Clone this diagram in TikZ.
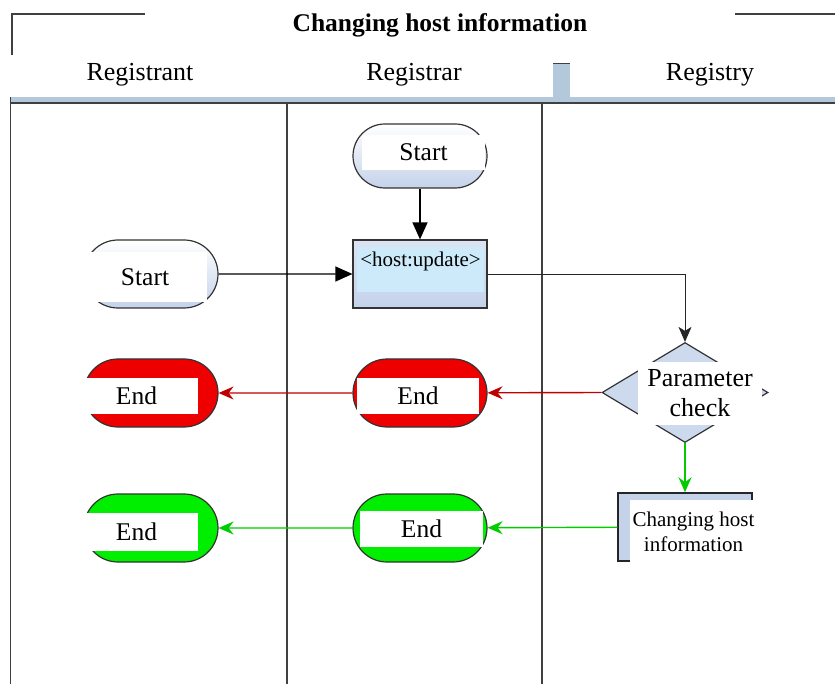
\documentclass[tikz,border=0pt]{standalone}
\usepackage{fontspec}
\setmainfont{Liberation Serif}
\usetikzlibrary{shapes.misc,shapes.geometric,arrows.meta,positioning}

\definecolor{endred}{HTML}{EE0000}
\definecolor{endgreen}{HTML}{00EE00}
\definecolor{paleblue}{HTML}{C4D2EA}
\definecolor{hostcyan}{HTML}{CCEAFA}
\definecolor{bandblue}{HTML}{B4C8DC}
\definecolor{frame}{HTML}{404040}

\tikzset{
  stadium/.style={rounded rectangle, draw=black!80, line width=1.2pt,
    minimum width=134pt, minimum height=68pt, inner sep=0pt},
  startshape/.style={stadium, top color=white, bottom color=paleblue},
  redend/.style={stadium, fill=endred},
  greenend/.style={stadium, fill=endgreen},
  lblbox/.style={fill=white, inner sep=0pt, align=center,
    font=\fontsize{25.5}{30}\selectfont},
  smallbox/.style={lblbox, font=\fontsize{21}{25}\selectfont},
  lane/.style={frame, line width=1.3pt},
  flow/.style={line width=1.3pt, -{Triangle[length=17pt,width=15pt]}},
  redflow/.style={endred!80!black, line width=1.4pt,
    -{Stealth[length=15pt,width=13pt,inset=5pt]}},
  greenflow/.style={green!80!black, line width=1.4pt,
    -{Stealth[length=15pt,width=13pt,inset=5pt]}},
}

\begin{document}
\begin{tikzpicture}[x=1pt, y=-1pt]
    \useasboundingbox (0,0) rectangle (835,684);

    % First draw the frame and the lanes
    \draw[lane] (12,55) -- (12,14) -- (145,14);
    \draw[lane] (735,14) -- (835,14);
    \node[font=\bfseries\fontsize{25.5}{30}\selectfont] (title) at (440,25) {Changing host information};

    \fill[bandblue] (10,97.5) rectangle (835,102.5);
    \fill[bandblue] (553,63) rectangle (570,98);
    \draw[frame, line width=1.5pt] (553,63.5) -- (570,63.5);
    \draw[lane] (10,103) -- (835,103);
    \draw[lane] (10.5,97) -- (10.5,684);
    \draw[lane] (287,102) -- (287,684);
    \draw[lane] (542,102) -- (542,684);

    \foreach \name/\x/\txt in {registrant/140/Registrant, registrar/414/Registrar, registry/710/Registry}
      \node[font=\fontsize{26}{30}\selectfont] (\name) at (\x,75) {\txt};

    % Next, the start nodes and the update request
    \node[startshape, minimum height=64pt] (start2) at (420,156) {};
    \node[lblbox, minimum width=123pt, minimum height=35pt] (start2-lbl) at (423.5,152.5) {Start};

    \node[startshape] (start1) at (151,274) {};
    \node[lblbox, minimum width=124pt, minimum height=50pt] (start1-lbl) at (145,277) {Start};

    \node[rectangle, draw=black!80, line width=1.2pt, minimum width=134pt, minimum height=68pt,
      top color=paleblue!60, bottom color=paleblue] (upd) at (420,274) {};
    \node[smallbox, fill=hostcyan, minimum width=127pt, minimum height=45pt,
      text height=14pt, text depth=19pt] (upd-lbl) at (420.5,269.5) {<host:update>};

    % The check in the registry
    \node[diamond, draw=black!80, line width=1.2pt, fill=paleblue!85, aspect=1.66,
      minimum width=166pt, minimum height=100pt, inner sep=0pt] (check) at (685,392.5) {};
    \node[lblbox, font=\fontsize{26}{30}\selectfont, minimum width=124pt, minimum height=63pt]
      (check-lbl) at (700,393.5) {Parameter\\check};

    \node[rectangle, draw=black!85, line width=1.5pt, fill=paleblue,
      minimum width=134pt, minimum height=68pt] (change) at (685,527) {};
    \node[smallbox, minimum width=127pt, minimum height=63pt] (change-lbl) at (693.5,531.5)
      {Changing host\\information};

    % The end nodes
    \node[redend] (red2) at (420,393) {};
    \node[lblbox, minimum width=122pt, minimum height=36pt] (red2-lbl) at (418,396) {End};
    \node[redend] (red1) at (151,393) {};
    \node[lblbox, minimum width=123pt, minimum height=36pt] (red1-lbl) at (136.5,396) {End};

    \node[greenend] (green2) at (420,528) {};
    \node[lblbox, minimum width=123pt, minimum height=36pt] (green2-lbl) at (421.5,529) {End};
    \node[greenend] (green1) at (151,528) {};
    \node[lblbox, minimum width=123pt, minimum height=38pt] (green1-lbl) at (136.5,532) {End};

    % Connectors
    \draw[flow] (start2) -- (upd);
    \draw[flow] (start1) -- (upd);
    \draw[black!85, line width=0.9pt, -{Stealth[length=15pt,width=13pt,inset=4pt]}] (upd.east) -| (check.north);

    \draw[redflow] (check.west) -- (red2);
    \draw[redflow] (red2) -- (red1);
    \draw[greenflow] (check.south) -- (change);
    \draw[greenflow] (change) -- (green2);
    \draw[greenflow] (green2) -- (green1);
  \end{tikzpicture}
\end{document}
